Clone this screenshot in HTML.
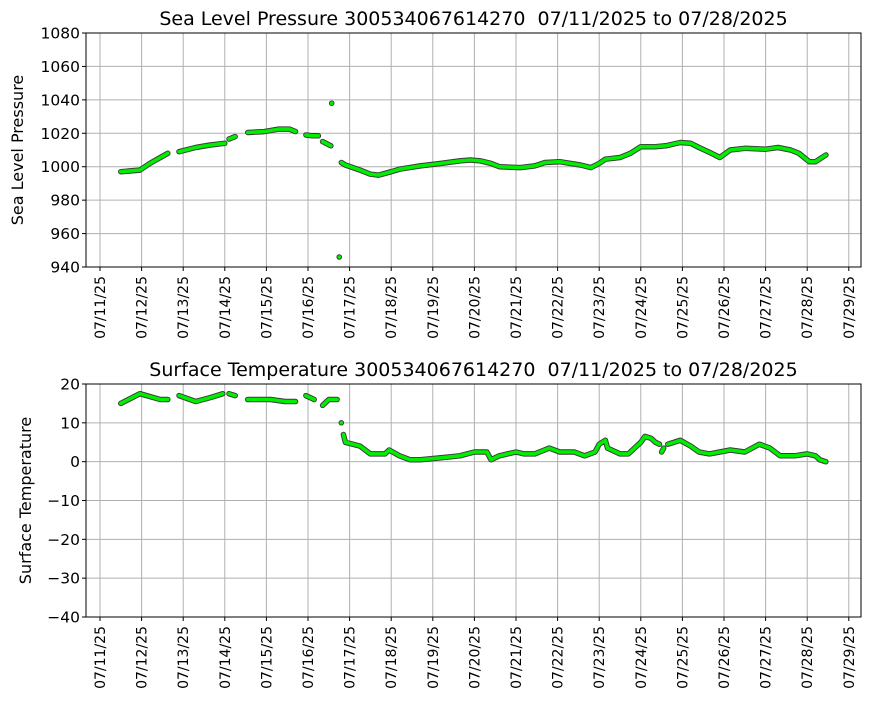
<!DOCTYPE html>
<html><head><meta charset="utf-8"><style>
body{margin:0;background:#fff;font-family:"Liberation Sans","DejaVu Sans",sans-serif}
svg text{font-family:"DejaVu Sans","Liberation Sans",sans-serif;fill:#000;white-space:pre}
</style></head><body>
<svg id="chart" width="870" height="700" xmlns="http://www.w3.org/2000/svg"></svg>
<script>
// shared x tick labels
const dateTicks = ["07/11/25","07/12/25","07/13/25","07/14/25","07/15/25","07/16/25","07/17/25","07/18/25","07/19/25","07/20/25","07/21/25","07/22/25","07/23/25","07/24/25","07/25/25","07/26/25","07/27/25","07/28/25","07/29/25"];
// pressure series (days since 07/11 00:00; null = gap)
const presDays = [0.5,0.96,1.2,1.63,null,1.9,2.3,2.65,3.0,null,3.1,3.25,null,3.55,3.95,4.3,4.55,4.7,null,4.95,5.1,5.25,null,5.35,5.55,null,5.57,null,5.75,null,5.8,5.9,6.25,6.5,6.7,7.0,7.2,7.7,8.2,8.65,8.9,9.15,9.4,9.6,10.1,10.45,10.7,11.05,11.3,11.55,11.8,12.0,12.15,12.5,12.75,13.0,13.35,13.6,13.95,14.2,14.4,14.7,14.9,15.15,15.5,16.0,16.3,16.6,16.8,17.05,17.2,17.45];
const presVals = [997,998,1002,1008,null,1009,1011.5,1013,1014,null,1016.5,1018,null,1020.5,1021,1022.5,1022.5,1021,null,1019,1018.5,1018.5,null,1015,1012.5,null,1038,null,946,null,1002.5,1001,998,995.5,995,997,998.5,1000.5,1002,1003.5,1004,1003.5,1002,1000,999.5,1000.5,1002.5,1003,1002,1001,999.5,1002,1004.5,1005.5,1008,1012,1012,1012.5,1014.5,1014,1011.5,1008,1005.5,1010,1011,1010.5,1011.5,1010,1008,1003,1003,1007];
const presTicks = [940,960,980,1000,1020,1040,1060,1080];
// temperature series
const tempDays = [0.5,0.96,1.45,1.63,null,1.9,2.3,2.65,2.95,null,3.1,3.25,null,3.55,4.1,4.45,4.7,null,4.95,5.15,null,5.35,5.5,5.7,null,5.8,null,5.85,5.9,6.25,6.5,6.85,6.95,7.2,7.45,7.7,8.2,8.65,9.0,9.3,9.4,9.6,10.0,10.2,10.45,10.8,11.05,11.4,11.65,11.9,12.0,12.15,12.2,12.5,12.7,13.0,13.1,13.25,13.35,13.45,null,13.5,13.55,null,13.65,13.8,13.95,14.2,14.4,14.65,14.9,15.15,15.5,15.85,16.1,16.35,16.7,17.0,17.2,17.3,17.45];
const tempVals = [15,17.5,16,16,null,17,15.5,16.5,17.5,null,17.5,17,null,16,16,15.5,15.5,null,17,16,null,14.5,16,16,null,10,null,7,5,4,2,2,3,1.5,0.5,0.5,1,1.5,2.5,2.5,0.5,1.5,2.5,2,2,3.5,2.5,2.5,1.5,2.5,4.5,5.5,3.5,2,2,5,6.5,6,5,4.5,null,2.5,3.5,null,4.5,5,5.5,4,2.5,2,2.5,3,2.5,4.5,3.5,1.5,1.5,2,1.5,0.5,0];
const tempTicks = [-40,-30,-20,-10,0,10,20];

const NS="http://www.w3.org/2000/svg", svg=document.getElementById('chart');
function mk(tag,attrs,parent){const e=document.createElementNS(NS,tag);for(const k in attrs)e.setAttribute(k,attrs[k]);(parent||svg).appendChild(e);return e;}
const xL=86,xR=861;
const xs=d=>100+d*41.6;

function panel(name,top,bot,ymin,ymax,ticks,days,vals,title,ylabel){
  const ys=v=>bot-(v-ymin)/(ymax-ymin)*(bot-top);
  const g=mk('g',{});
  
  
  dateTicks.forEach((t,i)=>{
    const x=xs(i);
    const l=mk('line',{x1:x,x2:x,y1:top,y2:bot,stroke:'#b0b0b0','stroke-width':1},g);
    
    
    mk('line',{x1:x,x2:x,y1:bot,y2:bot+4,stroke:'#000'},g);
    const tx=mk('text',{x:0,y:0,'font-size':14,'text-anchor':'end',transform:`translate(${x+5},${bot+9}) rotate(-90)`},g);
    tx.textContent=t;
    
    
  });
  ticks.forEach(v=>{
    const y=ys(v);
    const l=mk('line',{x1:xL,x2:xR,y1:y,y2:y,stroke:'#b0b0b0','stroke-width':1},g);
    
    
    mk('line',{x1:xL-4,x2:xL,y1:y,y2:y,stroke:'#000'},g);
    const tx=mk('text',{x:xL-6,y:y+5.5,'font-size':15.5,'text-anchor':'end'},g);
    tx.textContent=v<0?'\u2212'+(-v):v;
    
    
  });
  let segs=[],cur=[];
  days.forEach((d,i)=>{ if(d===null||vals[i]===null){if(cur.length)segs.push(cur);cur=[];} else cur.push([xs(d),ys(vals[i])]); });
  if(cur.length)segs.push(cur);
  const sg=mk('g',{},g);
  
  
  segs.forEach(s=>{
    const dpath='M'+s.map(p=>p[0].toFixed(1)+','+p[1].toFixed(1)).join('L')+(s.length===1?'l0.01,0':'');
    const a=mk('path',{d:dpath,fill:'none',stroke:'#3a3a3a','stroke-width':5.5,'stroke-linecap':'round','stroke-linejoin':'round'},sg);
    
    
    const b=mk('path',{d:dpath,fill:'none',stroke:'#00ee00','stroke-width':3.6,'stroke-linecap':'round','stroke-linejoin':'round'},sg);
    
    
  });
  const fr=mk('rect',{x:xL,y:top,width:xR-xL,height:bot-top,fill:'none',stroke:'#000','stroke-width':1},g);
  
  
  const tt=mk('text',{x:(xL+xR)/2,y:top-8,'font-size':19,'text-anchor':'middle'},g);
  tt.textContent=title;
  
  
  const yl=mk('text',{x:0,y:0,'font-size':16,'text-anchor':'middle',transform:`translate(${name==='pressure'?23:31},${(top+bot)/2}) rotate(-90)`},g);
  yl.textContent=ylabel;
  
  
}
panel('pressure',33,267,940,1080,presTicks,presDays,presVals,'Sea Level Pressure 300534067614270  07/11/2025 to 07/28/2025','Sea Level Pressure');
panel('temperature',384,617,-40,20,tempTicks,tempDays,tempVals,'Surface Temperature 300534067614270  07/11/2025 to 07/28/2025','Surface Temperature');
</script>
</body></html>
